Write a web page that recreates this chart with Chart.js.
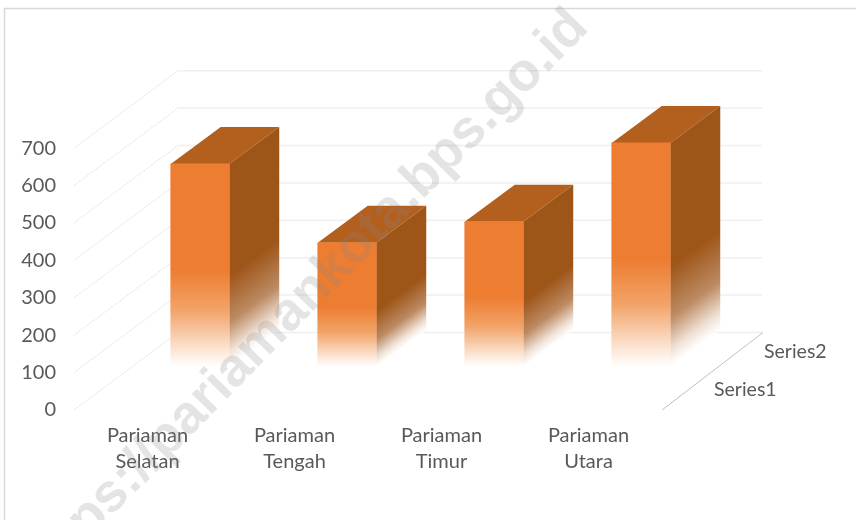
<!DOCTYPE html>
<html>
<head>
<meta charset="utf-8">
<title>Pariaman</title>
<script src="https://cdn.jsdelivr.net/npm/chart.js@4"></script>
<style>
  html, body { margin: 0; padding: 0; background: #fff; }
  #wrap { width: 856px; height: 520px; }
</style>
</head>
<body>
<div id="wrap"><canvas id="myChart" width="856" height="520"></canvas></div>
<script>
// Dados do grafico
const categorias = [['Pariaman', 'Selatan'], ['Pariaman', 'Tengah'], ['Pariaman', 'Timur'], ['Pariaman', 'Utara']];
const valores = [543, 332, 388, 599];
const tickValores = [0, 100, 200, 300, 400, 500, 600, 700];
const seriesNomes = ['Series1', 'Series2'];
const marcaDagua = 'https://pariamankota.bps.go.id';

const corTexto = '#595959';
const fonte = 'Lato, "Open Sans", sans-serif';

// Profundidade da caixa 3D: parede do fundo e profundidade da barra
const fundoX = 104, fundoY = 77.5;
const barraX = 50, barraY = 37;

// Gradiente da face frontal, acompanha a altura de cada barra
function gradienteFrente(ctx) {
  const chart = ctx.chart;
  const escala = chart.scales.yBar;
  if (!escala || !ctx.raw) return '#ED7D31';
  const topo = escala.getPixelForValue(ctx.raw.y);
  const base = escala.getPixelForValue(0);
  if (!isFinite(topo) || !isFinite(base)) return '#ED7D31';
  const g = chart.ctx.createLinearGradient(0, topo, 0, base);
  g.addColorStop(0, '#ED7D31');
  g.addColorStop(0.52, '#ED7D31');
  g.addColorStop(0.72, '#F2A368');
  g.addColorStop(0.9, '#FBE0CB');
  g.addColorStop(1, 'rgba(255,255,255,0.9)');
  return g;
}

// Desenha a parede, o chao e as faces laterais a partir das escalas
const caixa3d = {
  id: 'caixa3d',
  beforeDatasetsDraw(chart) {
    const { ctx, chartArea, scales } = chart;
    const xEsq = chartArea.left, xDir = chartArea.right;

    ctx.save();
    tickValores.forEach(v => {
      const y = scales.y.getPixelForValue(v);
      ctx.lineWidth = 1.5;
      ctx.strokeStyle = '#efefef';
      ctx.setLineDash([]);
      ctx.beginPath();
      ctx.moveTo(xEsq + fundoX, y - fundoY);
      ctx.lineTo(xDir + fundoX - 4, y - fundoY);
      ctx.stroke();
      ctx.lineWidth = 1;
      ctx.strokeStyle = '#e2e2e2';
      ctx.setLineDash([2, 1]);
      ctx.beginPath();
      ctx.moveTo(xEsq, y);
      ctx.lineTo(xEsq + fundoX, y - fundoY);
      ctx.stroke();
    });

    // eixo de profundidade
    const yZero = scales.y.getPixelForValue(0);
    ctx.setLineDash([]);
    ctx.strokeStyle = '#bfbfbf';
    ctx.beginPath();
    ctx.moveTo(xDir, yZero);
    ctx.lineTo(xDir + fundoX - 3, yZero - fundoY);
    ctx.stroke();

    ctx.fillStyle = corTexto;
    ctx.font = '19.5px ' + fonte;
    ctx.textBaseline = 'middle';
    ctx.textAlign = 'left';
    ctx.fillText(seriesNomes[0], xDir + 52, yZero - 20);
    ctx.fillText(seriesNomes[1], xDir + 102, yZero - 58);

    // topo e lateral de cada barra
    chart.getDatasetMeta(0).data.forEach(barra => {
      const x1 = barra.x - barra.width / 2, x2 = barra.x + barra.width / 2;
      const topo = barra.y, base = barra.base, h = base - topo;

      ctx.fillStyle = '#B35F1E';
      ctx.beginPath();
      ctx.moveTo(x1, topo);
      ctx.lineTo(x2, topo);
      ctx.lineTo(x2 + barraX, topo - barraY);
      ctx.lineTo(x1 + barraX, topo - barraY);
      ctx.closePath();
      ctx.fill();

      // as linhas do gradiente seguem a direcao da profundidade
      const d = Math.hypot(barraX, barraY);
      const p = h * barraX / d;
      const g = ctx.createLinearGradient(x2, topo, x2 + p * barraY / d, topo + p * barraX / d);
      g.addColorStop(0, '#9E5518');
      g.addColorStop(0.55, '#9E5518');
      g.addColorStop(0.78, '#BC8A62');
      g.addColorStop(0.92, '#EEDFD3');
      g.addColorStop(1, 'rgba(255,255,255,0.9)');
      ctx.fillStyle = g;
      ctx.beginPath();
      ctx.moveTo(x2, topo);
      ctx.lineTo(x2 + barraX, topo - barraY);
      ctx.lineTo(x2 + barraX, base - barraY);
      ctx.lineTo(x2, base);
      ctx.closePath();
      ctx.fill();
    });
    ctx.restore();
  },
  afterDraw(chart) {
    const { ctx, width, height } = chart;
    // borda do grafico
    ctx.save();
    ctx.strokeStyle = '#d9d9d9';
    ctx.lineWidth = 1.5;
    ctx.strokeRect(4.5, 8.5, width, height);
    // marca d'agua
    ctx.translate(304, 299);
    ctx.rotate(-45.5 * Math.PI / 180);
    ctx.font = 'bold 54px "Liberation Sans", sans-serif';
    ctx.textAlign = 'center';
    ctx.textBaseline = 'middle';
    ctx.fillStyle = 'rgba(130,130,130,0.22)';
    ctx.fillText(marcaDagua, 0, 0);
    ctx.restore();
  }
};

new Chart(document.getElementById('myChart').getContext('2d'), {
  type: 'bar',
  data: {
    datasets: [{
      label: seriesNomes[1],
      data: valores.map((v, i) => ({ x: i, y: v })),
      xAxisID: 'xBar',
      yAxisID: 'yBar',
      barThickness: 58.5,
      clip: false,
      backgroundColor: gradienteFrente,
      borderWidth: 0
    }]
  },
  options: {
    responsive: false,
    animation: false,
    layout: { padding: { top: 70, right: 194, left: 0, bottom: 0 } },
    plugins: { legend: { display: false }, tooltip: { enabled: false } },
    scales: {
      x: {
        type: 'category',
        labels: categorias,
        grid: { display: false, drawTicks: false },
        border: { display: false },
        afterFit(escala) { escala.height = 110; },
        ticks: {
          color: corTexto,
          font: { family: fonte, size: 20, lineHeight: 1.3 },
          maxRotation: 0,
          padding: 13
        }
      },
      // eixo visivel, no plano da frente
      y: {
        type: 'linear',
        min: 0,
        max: 909,
        grid: { display: false, drawTicks: false },
        border: { display: false },
        afterFit(escala) { escala.width = 74; },
        afterBuildTicks(escala) { escala.ticks = tickValores.map(v => ({ value: v })); },
        ticks: {
          color: corTexto,
          font: { family: fonte, size: 20 },
          padding: 18
        }
      },
      // eixos das barras, deslocados para a fila de tras
      xBar: { type: 'linear', display: false, offset: false, min: -0.857, max: 3.143 },
      yBar: { type: 'linear', display: false, min: -115, max: 794 }
    }
  },
  plugins: [caixa3d]
});
</script>
</body>
</html>
